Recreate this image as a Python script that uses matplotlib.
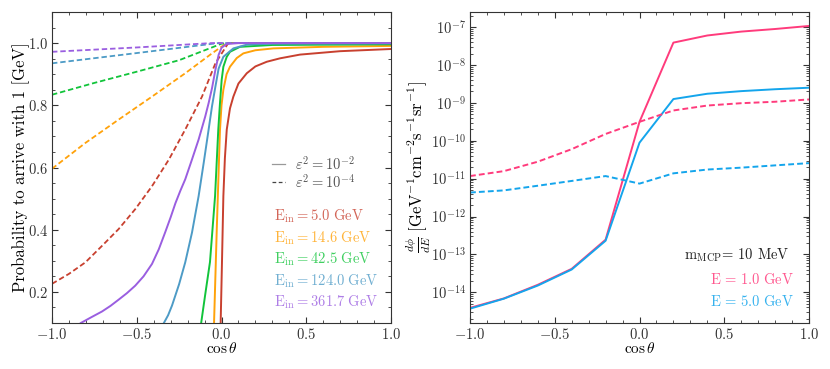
import numpy as np
import matplotlib
matplotlib.use('Agg')
import matplotlib.pyplot as plt
from matplotlib.ticker import MultipleLocator, LogLocator, NullFormatter
from matplotlib.lines import Line2D
from matplotlib.transforms import Affine2D

plt.rcParams['font.family'] = 'serif'
plt.rcParams['font.serif'] = ['cmr10', 'DejaVu Serif']
plt.rcParams['mathtext.fontset'] = 'cm'
plt.rcParams['axes.formatter.use_mathtext'] = True
plt.rcParams['font.size'] = 11

# ---- left panel: probability vs cos(theta) ----
energies = ['5.0', '14.6', '42.5', '124.0', '361.7']
colors_left = ['#c8402f', '#ffa20a', '#11c43a', '#4d9bc6', '#9a5ee0']

# eps^2 = 1e-2 (solid)
sol_x = [
    [-0.005, 0.003, 0.011, 0.02, 0.031, 0.05, 0.07, 0.1, 0.149, 0.2, 0.267, 0.345, 0.463, 0.7, 1.0],
    [-0.044, -0.036, -0.028, -0.018, -0.009, 0.0, 0.011, 0.03, 0.05, 0.09, 0.129, 0.2, 0.306, 0.6, 1.0],
    [-0.12, -0.097, -0.068, -0.038, -0.019, -0.009, 0.001, 0.011, 0.031, 0.05, 0.109, 0.3, 1.0],
    [-0.34, -0.315, -0.292, -0.25, -0.214, -0.174, -0.135, -0.105, -0.076, -0.056, -0.036, -0.017,
     0.011, 0.07, 0.15, 0.3, 1.0],
    [-0.83, -0.77, -0.705, -0.655, -0.607, -0.558, -0.509, -0.46, -0.41, -0.37, -0.332, -0.30, -0.272,
     -0.243, -0.214, -0.174, -0.135, -0.096, -0.076, -0.056, -0.036, -0.017, 0.0, 0.03, 0.1, 1.0],
]
sol_y = [
    [0.10, 0.30, 0.508, 0.63, 0.722, 0.79, 0.828, 0.87, 0.903, 0.925, 0.94, 0.951, 0.963, 0.974, 0.981],
    [0.10, 0.25, 0.40, 0.57, 0.72, 0.80, 0.85, 0.90, 0.924, 0.952, 0.967, 0.977, 0.983, 0.988, 0.991],
    [0.10, 0.188, 0.296, 0.508, 0.722, 0.807, 0.882, 0.924, 0.956, 0.972, 0.988, 0.994, 0.996],
    [0.10, 0.125, 0.156, 0.225, 0.295, 0.391, 0.508, 0.615, 0.722, 0.797, 0.86, 0.918,
     0.956, 0.983, 0.995, 0.998, 0.999],
    [0.10, 0.118, 0.137, 0.155, 0.175, 0.196, 0.22, 0.25, 0.29, 0.337, 0.392, 0.44, 0.485,
     0.525, 0.562, 0.626, 0.69, 0.764, 0.807, 0.855, 0.914, 0.962, 0.985, 0.997, 1.0, 1.0],
]

# eps^2 = 1e-4 (dashed)
das_x = [
    [-1.0, -0.9, -0.803, -0.705, -0.607, -0.509, -0.41, -0.31, -0.214, -0.115, -0.036, 0.04, 1.0],
    [-1.0, -0.803, -0.607, -0.41, -0.214, -0.056, 0.03, 1.0],
    [-1.0, -0.75, -0.5, -0.25, 0.0, 0.03, 1.0],
    [-1.0, -0.5, -0.02, 1.0],
    [-1.0, -0.5, -0.06, 1.0],
]
das_y = [
    [0.226, 0.258, 0.295, 0.348, 0.402, 0.466, 0.54, 0.626, 0.722, 0.828, 0.935, 1.0, 1.0],
    [0.596, 0.679, 0.754, 0.828, 0.903, 0.967, 1.0, 1.0],
    [0.834, 0.872, 0.908, 0.945, 0.998, 1.0, 1.0],
    [0.935, 0.968, 1.0, 1.0],
    [0.972, 0.986, 1.0, 1.0],
]

# ---- right panel: flux vs cos(theta) ----
cos_r = [-1.0, -0.8, -0.6, -0.4, -0.2, 0.0, 0.2, 0.4, 0.6, 0.8, 1.0]
e1_solid = [3.89e-15, 6.9e-15, 1.58e-14, 4.17e-14, 2.45e-13, 3.16e-10, 3.89e-8, 6.0e-8, 7.6e-8, 8.9e-8, 1.07e-7]
e5_solid = [3.7e-15, 6.8e-15, 1.51e-14, 4.0e-14, 2.3e-13, 8.9e-11, 1.26e-9, 1.74e-9, 2.04e-9, 2.29e-9, 2.51e-9]
e1_dash = [1.17e-11, 1.58e-11, 2.8e-11, 6.0e-11, 1.51e-10, 3.16e-10, 6.3e-10, 8.5e-10, 9.8e-10, 1.07e-9, 1.23e-9]
e5_dash = [4.3e-12, 4.9e-12, 6.5e-12, 8.7e-12, 1.17e-11, 7.4e-12, 1.38e-11, 1.74e-11, 1.95e-11, 2.24e-11, 2.57e-11]
flux_ticks = [1e-14, 1e-13, 1e-12, 1e-11, 1e-10, 1e-9, 1e-8, 1e-7]
pink = '#ff3b7c'
sky = '#14a5ec'

fig = plt.figure(figsize=(8.3, 3.69), dpi=100)
ax1 = fig.add_axes([52/830, 46/369, 339/830, 311/369])
ax2 = fig.add_axes([470/830, 46/369, 339/830, 311/369])
pix = Affine2D().scale(1, -1).translate(0, 369)   # pixel coords from top-left

for i in range(5):
    ax1.plot(sol_x[i], sol_y[i], color=colors_left[i], lw=1.4)
    ax1.plot(das_x[i], das_y[i], color=colors_left[i], lw=1.3, dashes=(3, 1.6))

ax1.set_xlim(-1, 1)
ax1.set_ylim(0.1, 1.1)
ax1.set_xlabel(r'$\cos\theta$', labelpad=-1)
ax1.set_ylabel('Probability to arrive with 1 [GeV]', fontsize=12)
ax1.yaxis.set_label_coords(-0.066, 0.5)
ax1.xaxis.set_major_locator(MultipleLocator(0.5))
ax1.xaxis.set_minor_locator(MultipleLocator(0.1))
ax1.yaxis.set_minor_locator(MultipleLocator(0.05))
ax1.set_yticks([0.2, 0.4, 0.6, 0.8, 1.0])

# key for the two line styles (drawn as a small hand-placed legend)
key_labels = [r'$\varepsilon^2 = 10^{-2}$', r'$\varepsilon^2 = 10^{-4}$']
key_styles = [dict(color='#999999', lw=0.9), dict(color='#444444', lw=0.9, dashes=(3, 2))]
key_y = [164, 182]
for lab, st, yy in zip(key_labels, key_styles, key_y):
    ax1.add_line(Line2D([272, 285], [yy, yy], transform=pix, clip_on=False, **st))
    ax1.text(295, yy, lab, color='#555555', fontsize=10.5, va='center', ha='left', transform=pix)

ty = [216, 238, 259, 281, 302]
for i in range(5):
    ax1.text(274, ty[i], r'$\mathrm{E_{in}} = %s\ \mathrm{GeV}$' % energies[i],
             color=colors_left[i], alpha=0.8, fontsize=10.5, va='center', ha='left', transform=pix)

ax2.plot(cos_r, e1_solid, color=pink, lw=1.4)
ax2.plot(cos_r, e5_solid, color=sky, lw=1.4)
ax2.plot(cos_r, e1_dash, color=pink, lw=1.4, dashes=(3, 1.6))
ax2.plot(cos_r, e5_dash, color=sky, lw=1.4, dashes=(3, 1.6))
ax2.set_yscale('log')
ax2.set_xlim(-1, 1)
ax2.set_ylim(1.55e-15, 2.5e-7)
ax2.set_xlabel(r'$\cos\theta$', labelpad=-1)
ax2.set_ylabel(r'$\frac{d\phi}{dE}\ [\mathrm{GeV^{-1}cm^{-2}s^{-1}sr^{-1}}]$', fontsize=12)
ax2.yaxis.set_label_coords(-0.11, 0.5)
ax2.xaxis.set_major_locator(MultipleLocator(0.5))
ax2.xaxis.set_minor_locator(MultipleLocator(0.1))
ax2.set_yticks(flux_ticks)
ax2.yaxis.set_minor_locator(LogLocator(base=10, subs=np.arange(2, 10), numticks=20))
ax2.yaxis.set_minor_formatter(NullFormatter())

ax2.text(790, 255, r'$\mathrm{m_{MCP}}$= 10 MeV', color='#222222', fontsize=10.5, va='center', ha='right', transform=pix)
ax2.text(794, 279, r'$\mathrm{E}\,=\,1.0\ \mathrm{GeV}$', color=pink, alpha=0.85, fontsize=10.5, va='center', ha='right', transform=pix)
ax2.text(794, 302, r'$\mathrm{E}\,=\,5.0\ \mathrm{GeV}$', color=sky, alpha=0.85, fontsize=10.5, va='center', ha='right', transform=pix)

for ax in (ax1, ax2):
    ax.tick_params(which='both', direction='in', top=True, right=True, colors='#333333', labelcolor='#333333')
    ax.tick_params(which='major', length=4, labelsize=10.5, pad=3)
    ax.tick_params(which='minor', length=2)
    for s in ax.spines.values():
        s.set_color('#333333')

fig.savefig('out.png', dpi=100)
